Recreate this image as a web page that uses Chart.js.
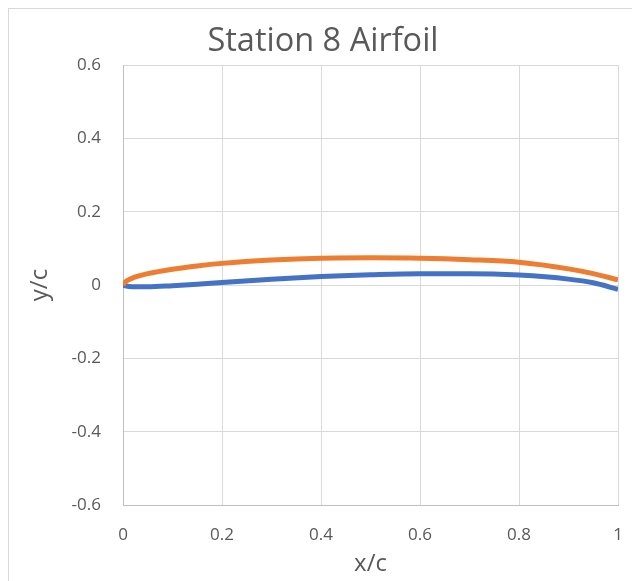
<!DOCTYPE html>
<html>
<head>
<meta charset="utf-8">
<script src="https://cdn.jsdelivr.net/npm/chart.js@4/dist/chart.umd.min.js"></script>
<style>
  html, body { margin: 0; padding: 0; background: #fff; }
  #wrap { width: 632px; height: 581px; }
</style>
</head>
<body>
<div id="wrap"><canvas id="airfoilChart" width="632" height="581"></canvas></div>
<script>
// station 8 airfoil coordinates
var xStations = [0, 0.005, 0.0125, 0.025, 0.05, 0.1, 0.15, 0.2, 0.3, 0.4, 0.5, 0.6, 0.7, 0.8, 0.9, 0.95, 1.0];
var upperY = [0, 0.009, 0.015, 0.022, 0.031, 0.043, 0.052, 0.059, 0.068, 0.073, 0.074, 0.073, 0.069, 0.062, 0.044, 0.031, 0.014];
var lowerY = [0, -0.002, -0.004, -0.005, -0.005, -0.002, 0.002, 0.007, 0.016, 0.023, 0.028, 0.031, 0.031, 0.027, 0.016, 0.006, -0.012];
var xTicks = [0, 0.2, 0.4, 0.6, 0.8, 1];
var yTicks = [-0.6, -0.4, -0.2, 0, 0.2, 0.4, 0.6];

var textGrey = '#595959';
var font = "'Open Sans', 'Liberation Sans', sans-serif";

function toPoints(xs, ys) {
    return xs.map(function (x, i) { return { x: x, y: ys[i] }; });
}

// light frame round the whole chart, like the spreadsheet chart box
var frame = {
    id: 'frame',
    beforeDraw: function (chart) {
        var ctx = chart.ctx;
        ctx.save();
        ctx.strokeStyle = '#d9d9d9';
        ctx.lineWidth = 1;
        ctx.strokeRect(8.5, 8.5, 700, 700);
        ctx.restore();
    }
};

var ctx = document.getElementById('airfoilChart').getContext('2d');
new Chart(ctx, {
    type: 'scatter',
    data: {
        datasets: [{
            label: 'Upper',
            data: toPoints(xStations, upperY),
            borderColor: '#ED7D31',
            borderWidth: 5,
            showLine: true,
            pointRadius: 0,
            cubicInterpolationMode: 'monotone',
            fill: false
        }, {
            label: 'Lower',
            data: toPoints(xStations, lowerY),
            borderColor: '#4472C4',
            borderWidth: 5,
            showLine: true,
            pointRadius: 0,
            cubicInterpolationMode: 'monotone',
            fill: false
        }]
    },
    options: {
        responsive: false,
        animation: false,
        layout: { padding: { left: 28, right: 14, top: 22, bottom: 0 } },
        plugins: {
            legend: { display: false },
            tooltip: { enabled: false },
            title: {
                display: true,
                text: 'Station 8 Airfoil',
                color: textGrey,
                font: { family: font, size: 32.5, weight: 'normal' },
                padding: { top: 0, bottom: 4 }
            }
        },
        scales: {
            x: {
                type: 'linear',
                min: 0,
                max: 1,
                afterBuildTicks: function (axis) {
                    axis.ticks = xTicks.map(function (v) { return { value: v }; });
                },
                afterFit: function (axis) {
                    axis.height = 76;
                    axis.paddingLeft = 0;
                    axis.paddingRight = 0;
                },
                grid: { color: '#d9d9d9', drawTicks: false },
                border: { color: '#bfbfbf' },
                ticks: {
                    color: textGrey,
                    padding: 20,
                    font: { family: font, size: 17 },
                    callback: function (v) { return String(v); }
                },
                title: {
                    display: true,
                    text: 'x/c',
                    color: textGrey,
                    font: { family: font, size: 24 },
                    padding: { top: 0, bottom: 2 }
                }
            },
            y: {
                type: 'linear',
                min: -0.6,
                max: 0.6,
                afterBuildTicks: function (axis) {
                    axis.ticks = yTicks.map(function (v) { return { value: v }; });
                },
                afterFit: function (axis) { axis.width = 95; },
                grid: { color: '#d9d9d9', drawTicks: false },
                border: { color: '#bfbfbf' },
                ticks: {
                    color: textGrey,
                    padding: 22,
                    font: { family: font, size: 17 },
                    callback: function (v) { return String(Math.round(v * 10) / 10); }
                },
                title: {
                    display: true,
                    text: 'y/c',
                    color: textGrey,
                    font: { family: font, size: 24 },
                    padding: { top: -2, bottom: 0 }
                }
            }
        }
    },
    plugins: [frame]
});
</script>
</body>
</html>
